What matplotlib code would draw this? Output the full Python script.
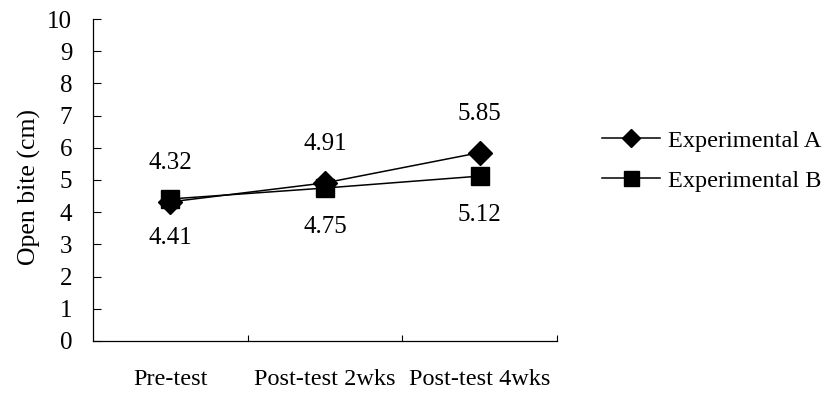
import matplotlib
matplotlib.use("Agg")
import matplotlib.pyplot as plt

# data
categories = ["Pre-test", "Post-test 2wks", "Post-test 4wks"]
exp_a = [4.32, 4.91, 5.85]
exp_b = [4.41, 4.75, 5.12]

plt.rcParams['font.family'] = ['Liberation Serif', 'DejaVu Serif']

fig = plt.figure(figsize=(8.27, 3.96), dpi=100)
ax = fig.add_axes([0.1125, 0.139, 0.561, 0.813])

x = list(range(len(categories)))
ax.plot(x, exp_a, color='black', lw=1.1, marker='D', ms=12, label='Experimental A')
ax.plot(x, exp_b, color='black', lw=1.1, marker='s', ms=13.5, label='Experimental B')

# value labels: A above, B below
for xi, v in zip(x, exp_a):
    ax.annotate(f"{v:.2f}", (xi, v), xytext=(0, 28), textcoords='offset points',
                ha='center', va='center', fontsize=18)
for xi, v in zip(x, exp_b):
    ax.annotate(f"{v:.2f}", (xi, v), xytext=(0, -28), textcoords='offset points',
                ha='center', va='center', fontsize=18)

ax.set_xlim(-0.5, 2.5)
ax.set_ylim(0, 10)
ax.set_yticks(range(0, 11))
ax.set_xticks(x)
ax.set_xticklabels(categories, fontsize=17.5)
ax.set_xticks([0.5, 1.5, 2.5], minor=True)
ax.tick_params(axis='x', which='major', length=0, pad=20)
ax.tick_params(axis='x', which='minor', direction='in', length=4, width=0.8)
ax.tick_params(axis='y', direction='in', length=6, width=0.8, pad=15, labelsize=18)
ax.set_ylabel("Open bite (cm)", fontsize=18.5)
ax.yaxis.set_label_coords(-0.113, 0.477)

for s in ['top', 'right']:
    ax.spines[s].set_visible(False)
for s in ['left', 'bottom']:
    ax.spines[s].set_linewidth(0.9)

ax.legend(loc='center left', bbox_to_anchor=(1.05, 0.56), frameon=False,
          fontsize=17.5, handlelength=2.4, markerscale=0.8, labelspacing=0.75,
          handletextpad=0.3)

fig.savefig("out.png", dpi=100)
